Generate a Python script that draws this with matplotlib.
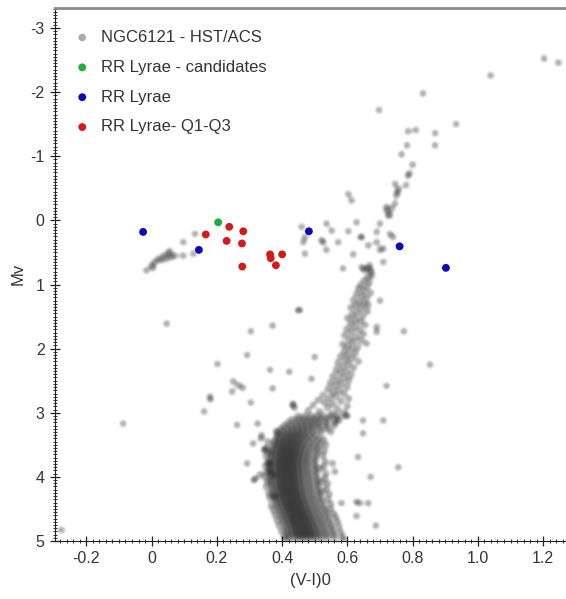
import matplotlib
matplotlib.use("Agg")
import numpy as np
import matplotlib.pyplot as plt
from matplotlib.ticker import MultipleLocator, FuncFormatter

plt.rcParams['font.family'] = ['Liberation Sans', 'DejaVu Sans']
plt.rcParams['axes.unicode_minus'] = False

# ---------------- data ----------------
# horizontal branch (gray)
hb_x = [-0.016, 0.0, 0.005, 0.010, 0.020, 0.030, 0.036, 0.046, 0.051, 0.055, 0.061, 0.071,
        0.097, 0.097, 0.128, 0.133]
hb_y = [0.78, 0.70, 0.74, 0.65, 0.60, 0.62, 0.55, 0.60, 0.52, 0.48, 0.57, 0.55,
        0.34, 0.55, 0.52, 0.21]

# upper red giant branch / AGB / red HB (gray)
ugb_x = [0.46, 0.465, 0.47, 0.47, 0.536, 0.552, 0.526, 0.536, 0.572, 0.603, 0.628, 0.644,
         0.618, 0.587, 0.603, 0.613, 0.664, 0.69, 0.70, 0.69, 0.70, 0.71, 0.71, 0.669,
         0.659, 0.674, 0.65, 0.664, 0.725, 0.72, 0.735, 0.746, 0.73, 0.74, 0.75, 0.756,
         0.746, 0.78, 0.786, 0.72, 0.754, 0.79, 0.80, 0.766, 0.783, 0.869, 0.869, 0.786,
         0.81, 0.933, 0.697, 0.832, 1.039, 1.203, 1.246, 0.521, 0.641, 0.644, 0.73,
         0.668, 0.675]
ugb_y = [0.10, 0.34, 0.52, 0.26, 0.05, 0.16, 0.34, 0.46, 0.34, 0.17, 0.03, 0.26,
         0.53, 0.75, -0.41, -0.31, 0.39, 0.18, 0.05, 0.34, 0.46, 0.44, 0.65, 0.70,
         0.75, 0.80, 0.77, 0.88, -0.08, -0.21, -0.18, -0.26, 0.21, 0.26, -0.39, -0.49,
         -0.57, -0.55, -0.70, -0.16, -0.44, -0.73, -0.87, -1.03, -1.17, -1.17, -1.36, -1.39,
         -1.41, -1.50, -1.72, -1.98, -2.26, -2.52, -2.46, 0.31, 0.26, 0.73, -0.08,
         0.76, 0.86]

# lower red giant branch and subgiant branch (gray)
rgb_x = [0.652, 0.668, 0.641, 0.66, 0.633, 0.65, 0.672, 0.628, 0.645, 0.66, 0.618, 0.637,
         0.652, 0.626, 0.61, 0.643, 0.662, 0.63, 0.615, 0.648, 0.60, 0.625, 0.64, 0.61,
         0.655, 0.622, 0.598, 0.637, 0.612, 0.65, 0.59, 0.627, 0.605, 0.642, 0.617, 0.585,
         0.60, 0.632, 0.612, 0.59, 0.625, 0.60, 0.578, 0.615, 0.594, 0.635, 0.57, 0.605,
         0.585, 0.62, 0.565, 0.597, 0.578, 0.612, 0.555, 0.59, 0.57, 0.605, 0.547, 0.582,
         0.562, 0.60, 0.54, 0.575, 0.555, 0.59, 0.525, 0.565, 0.545, 0.605, 0.51, 0.58,
         0.53, 0.555, 0.495, 0.60, 0.54, 0.57, 0.48, 0.515, 0.59, 0.555]
rgb_y = [0.93, 0.97, 1.00, 1.04, 1.06, 1.10, 1.13, 1.15, 1.18, 1.21, 1.24, 1.27,
         1.30, 1.33, 1.36, 1.38, 1.42, 1.44, 1.47, 1.50, 1.52, 1.55, 1.58, 1.60,
         1.63, 1.66, 1.69, 1.71, 1.74, 1.77, 1.79, 1.82, 1.85, 1.87, 1.90, 1.93,
         1.96, 1.98, 2.01, 2.04, 2.07, 2.10, 2.12, 2.15, 2.18, 2.20, 2.22, 2.24,
         2.28, 2.30, 2.33, 2.35, 2.38, 2.41, 2.43, 2.45, 2.49, 2.50, 2.53, 2.55,
         2.58, 2.60, 2.63, 2.65, 2.68, 2.70, 2.72, 2.74, 2.77, 2.78, 2.80, 2.82,
         2.84, 2.86, 2.88, 2.90, 2.92, 2.94, 2.96, 2.98, 3.00, 3.02]

# subgiant branch + main sequence, rows of magnitude with colours (gray)
ms_rows_y = [3.05, 3.10, 3.15, 3.20, 3.25, 3.30, 3.35, 3.40, 3.45, 3.50, 3.55, 3.60,
             3.65, 3.70, 3.75, 3.80, 3.85, 3.90, 3.95, 4.00, 4.05, 4.10, 4.15, 4.20,
             4.25, 4.30, 4.35, 4.40, 4.45, 4.50, 4.55, 4.60, 4.65, 4.70, 4.75, 4.80,
             4.85, 4.90, 4.95]
ms_rows_x = [
    [0.45, 0.47, 0.49, 0.508, 0.527, 0.548, 0.57, 0.595],
    [0.43, 0.45, 0.468, 0.485, 0.502, 0.52, 0.54, 0.565],
    [0.418, 0.44, 0.46, 0.478, 0.495, 0.513, 0.535, 0.562],
    [0.405, 0.425, 0.443, 0.46, 0.477, 0.494, 0.512, 0.535],
    [0.395, 0.413, 0.43, 0.446, 0.461, 0.477, 0.494, 0.515, 0.538],
    [0.388, 0.404, 0.419, 0.433, 0.447, 0.461, 0.476, 0.495, 0.52],
    [0.384, 0.399, 0.413, 0.426, 0.439, 0.452, 0.466, 0.482, 0.502],
    [0.381, 0.395, 0.408, 0.421, 0.433, 0.446, 0.459, 0.474, 0.492, 0.514],
    [0.377, 0.391, 0.404, 0.416, 0.428, 0.44, 0.452, 0.466, 0.484, 0.506],
    [0.374, 0.388, 0.4, 0.412, 0.424, 0.436, 0.448, 0.461, 0.477, 0.497, 0.518],
    [0.372, 0.386, 0.398, 0.409, 0.42, 0.431, 0.443, 0.456, 0.471, 0.49, 0.51],
    [0.369, 0.384, 0.396, 0.407, 0.418, 0.429, 0.44, 0.452, 0.467, 0.485, 0.507],
    [0.368, 0.383, 0.395, 0.406, 0.417, 0.428, 0.439, 0.451, 0.465, 0.482, 0.505],
    [0.366, 0.381, 0.393, 0.404, 0.415, 0.426, 0.437, 0.449, 0.463, 0.48, 0.50],
    [0.365, 0.38, 0.392, 0.403, 0.414, 0.425, 0.436, 0.448, 0.462, 0.479, 0.502],
    [0.364, 0.379, 0.391, 0.402, 0.413, 0.424, 0.435, 0.447, 0.461, 0.478, 0.498],
    [0.364, 0.379, 0.391, 0.402, 0.413, 0.424, 0.435, 0.447, 0.461, 0.479, 0.503],
    [0.364, 0.38, 0.392, 0.403, 0.414, 0.425, 0.436, 0.448, 0.462, 0.48, 0.50],
    [0.365, 0.38, 0.392, 0.403, 0.414, 0.425, 0.436, 0.448, 0.463, 0.481, 0.505],
    [0.365, 0.381, 0.393, 0.404, 0.415, 0.426, 0.437, 0.449, 0.464, 0.483, 0.503],
    [0.366, 0.382, 0.394, 0.405, 0.416, 0.427, 0.438, 0.45, 0.465, 0.484, 0.508],
    [0.367, 0.383, 0.395, 0.406, 0.417, 0.428, 0.439, 0.451, 0.466, 0.485, 0.505],
    [0.368, 0.384, 0.396, 0.407, 0.418, 0.429, 0.44, 0.452, 0.467, 0.486, 0.51],
    [0.37, 0.386, 0.398, 0.409, 0.42, 0.431, 0.442, 0.454, 0.469, 0.488, 0.508],
    [0.372, 0.388, 0.40, 0.411, 0.422, 0.433, 0.444, 0.456, 0.471, 0.49, 0.514],
    [0.375, 0.391, 0.403, 0.414, 0.425, 0.436, 0.447, 0.459, 0.474, 0.493, 0.512],
    [0.378, 0.394, 0.406, 0.417, 0.428, 0.439, 0.45, 0.462, 0.477, 0.496, 0.52],
    [0.381, 0.397, 0.409, 0.42, 0.431, 0.442, 0.453, 0.465, 0.48, 0.499, 0.518],
    [0.385, 0.401, 0.413, 0.424, 0.435, 0.446, 0.457, 0.469, 0.484, 0.503, 0.527],
    [0.389, 0.405, 0.417, 0.428, 0.439, 0.45, 0.461, 0.473, 0.488, 0.507, 0.526],
    [0.393, 0.409, 0.421, 0.432, 0.443, 0.454, 0.465, 0.477, 0.492, 0.511, 0.535],
    [0.397, 0.413, 0.425, 0.436, 0.447, 0.458, 0.469, 0.481, 0.496, 0.515, 0.534],
    [0.401, 0.417, 0.429, 0.44, 0.451, 0.462, 0.473, 0.485, 0.50, 0.519, 0.543],
    [0.405, 0.421, 0.433, 0.444, 0.455, 0.466, 0.477, 0.489, 0.504, 0.523, 0.542],
    [0.409, 0.425, 0.437, 0.448, 0.459, 0.47, 0.481, 0.493, 0.508, 0.527, 0.551],
    [0.412, 0.428, 0.44, 0.451, 0.462, 0.473, 0.484, 0.496, 0.511, 0.53, 0.55],
    [0.415, 0.431, 0.443, 0.454, 0.465, 0.476, 0.487, 0.499, 0.514, 0.533, 0.557],
    [0.418, 0.434, 0.446, 0.457, 0.468, 0.479, 0.49, 0.502, 0.517, 0.536, 0.556],
    [0.42, 0.436, 0.448, 0.459, 0.47, 0.481, 0.492, 0.504, 0.519, 0.538, 0.562]]

# stars on the fuzzy edges of the main sequence (gray)
edge_x = [0.357, 0.352, 0.36, 0.35, 0.355, 0.348, 0.352, 0.347, 0.355, 0.35, 0.358, 0.362,
          0.366, 0.372, 0.378, 0.385, 0.39, 0.398, 0.405, 0.41,
          0.528, 0.535, 0.53, 0.525, 0.532, 0.528, 0.535, 0.53, 0.54, 0.536, 0.545, 0.54,
          0.55, 0.548, 0.558, 0.565, 0.57, 0.575, 0.58, 0.585, 0.59, 0.55, 0.56, 0.575, 0.60]
edge_y = [3.45, 3.55, 3.62, 3.68, 3.78, 3.83, 3.93, 4.00, 4.07, 4.15, 4.26, 4.33,
          4.45, 4.52, 4.60, 4.68, 4.76, 4.85, 4.93, 4.98,
          3.42, 3.50, 3.60, 3.67, 3.76, 3.84, 3.95, 4.02, 4.10, 4.18, 4.27, 4.35,
          4.42, 4.50, 4.57, 4.63, 4.70, 4.78, 4.86, 4.93, 4.98, 3.30, 3.20, 3.12, 3.05]

# scattered field stars (gray)
field_x = [0.046, -0.087, -0.276, 0.202, 0.304, 0.371, 0.293, 0.363, 0.422, 0.449, 0.25, 0.266,
           0.279, 0.247, 0.179, 0.18, 0.161, 0.304, 0.371, 0.432, 0.438, 0.262, 0.325, 0.337,
           0.335, 0.311, 0.345, 0.381, 0.293, 0.36, 0.36, 0.371, 0.332, 0.313, 0.378, 0.773,
           0.853, 0.72, 0.71, 0.648, 0.648, 0.633, 0.756, 0.671, 0.582, 0.628, 0.637, 0.664,
           0.628, 0.687, 0.50, 0.49, 0.434, 0.555, 0.562, 0.516, 0.454, 0.69, 0.69, 0.664,
           0.70, 0.659, 0.318, 0.521, 0.526, 0.347]
field_y = [1.61, 3.17, 4.83, 2.24, 1.73, 1.64, 2.10, 2.33, 2.36, 1.40, 2.51, 2.57,
           2.61, 2.67, 2.75, 2.79, 2.98, 2.84, 2.62, 2.88, 2.92, 3.19, 3.17, 3.35,
           3.40, 3.48, 3.57, 3.29, 3.79, 3.79, 3.90, 3.97, 3.96, 4.05, 4.31, 1.73,
           2.25, 2.58, 3.12, 3.12, 3.32, 3.69, 3.85, 4.00, 4.41, 4.39, 4.41, 4.41,
           4.61, 4.76, 2.13, 2.47, 2.86, 3.79, 3.92, 3.87, 1.40, 1.66, 1.74, 1.32,
           1.25, 1.92, 4.03, 4.08, 4.23, 3.58]

# RR Lyrae samples
cand_x = [0.204]
cand_y = [0.03]
rrl_x = [-0.026, 0.145, 0.482, 0.760, 0.902]
rrl_y = [0.18, 0.46, 0.17, 0.405, 0.74]
q13_x = [0.166, 0.238, 0.23, 0.281, 0.277, 0.278, 0.363, 0.365, 0.381, 0.40]
q13_y = [0.22, 0.10, 0.32, 0.17, 0.36, 0.72, 0.53, 0.59, 0.70, 0.53]

legend_labels = ["NGC6121 - HST/ACS", "RR Lyrae - candidates", "RR Lyrae", "RR Lyrae- Q1-Q3"]
x_ticks = [-0.2, 0, 0.2, 0.4, 0.6, 0.8, 1.0, 1.2]
y_ticks = [-3, -2, -1, 0, 1, 2, 3, 4, 5]

# ---------------- assemble gray points ----------------
gx = list(hb_x) + list(ugb_x) + list(rgb_x) + list(edge_x) + list(field_x)
gy = list(hb_y) + list(ugb_y) + list(rgb_y) + list(edge_y) + list(field_y)
for yy, row in zip(ms_rows_y, ms_rows_x):
    gx += row
    gy += [yy] * len(row)


# soft-edged rendering of the dots (the original is slightly blurred)
def blur_filter(im, dpi):
    sigma = 1.0 * dpi / 100.0
    pad = int(3 * sigma) + 1
    a = np.pad(im, [(pad, pad), (pad, pad), (0, 0)], 'constant')
    r = np.arange(-pad, pad + 1)
    k = np.exp(-0.5 * (r / sigma) ** 2)
    k /= k.sum()
    for axis in (0, 1):
        out = np.zeros_like(a)
        for i, w in enumerate(k):
            out += w * np.roll(a, i - pad, axis=axis)
        a = out
    return a, -pad, -pad


# ---------------- figure ----------------
W, H = 566, 599
fig = plt.figure(figsize=(W / 100, H / 100), dpi=100)
ax = fig.add_axes([55 / W, 58 / H, (W - 55) / W, (541 - 7.5) / H])

sc = ax.scatter(gx, gy, s=30, color='black', alpha=0.32, edgecolors='none', zorder=2,
                label=legend_labels[0])
sc.set_agg_filter(blur_filter)
ax.scatter(cand_x, cand_y, s=32, color='#1fae3a', edgecolors='none', zorder=3,
           label=legend_labels[1])
ax.scatter(rrl_x, rrl_y, s=32, color='#0b0bb8', edgecolors='none', zorder=3,
           label=legend_labels[2])
ax.scatter(q13_x, q13_y, s=32, color='#d21c1c', edgecolors='none', zorder=3,
           label=legend_labels[3])

ax.set_xlim(-0.296, 1.270)
ax.set_ylim(5.0, -3.32)

ax.xaxis.set_minor_locator(MultipleLocator(0.02))
ax.yaxis.set_minor_locator(MultipleLocator(0.05))
ax.set_xticks(x_ticks)
ax.set_yticks(y_ticks)
ax.xaxis.set_major_formatter(FuncFormatter(lambda v, p: '0' if abs(v) < 1e-9 else '%.1f' % v))
ax.yaxis.set_major_formatter(FuncFormatter(lambda v, p: '%d' % round(v)))

ax.tick_params(which='major', direction='inout', length=7, width=0.9, color='#222222',
               labelsize=11.5, labelcolor='#333333', top=False, right=False, pad=4)
ax.tick_params(which='minor', direction='inout', length=3.5, width=0.7, color='#333333',
               top=False, right=False)

ax.spines['right'].set_visible(False)
ax.spines['top'].set_color('#8a8a8a')
ax.spines['top'].set_linewidth(2.0)
ax.spines['left'].set_color('#222222')
ax.spines['bottom'].set_color('#222222')

ax.set_xlabel('(V-I)0', fontsize=12, color='#333333', labelpad=5)
ax.set_ylabel('Mv', fontsize=12, color='#333333', labelpad=3.5)

leg = ax.legend(loc='upper left', bbox_to_anchor=(0.037, 0.958), frameon=False,
                fontsize=12, handlelength=1.0, handletextpad=0.6, labelspacing=0.89,
                borderaxespad=0, borderpad=0, scatterpoints=1)
for t in leg.get_texts():
    t.set_color('#333333')

fig.savefig('out.png', dpi=100)
